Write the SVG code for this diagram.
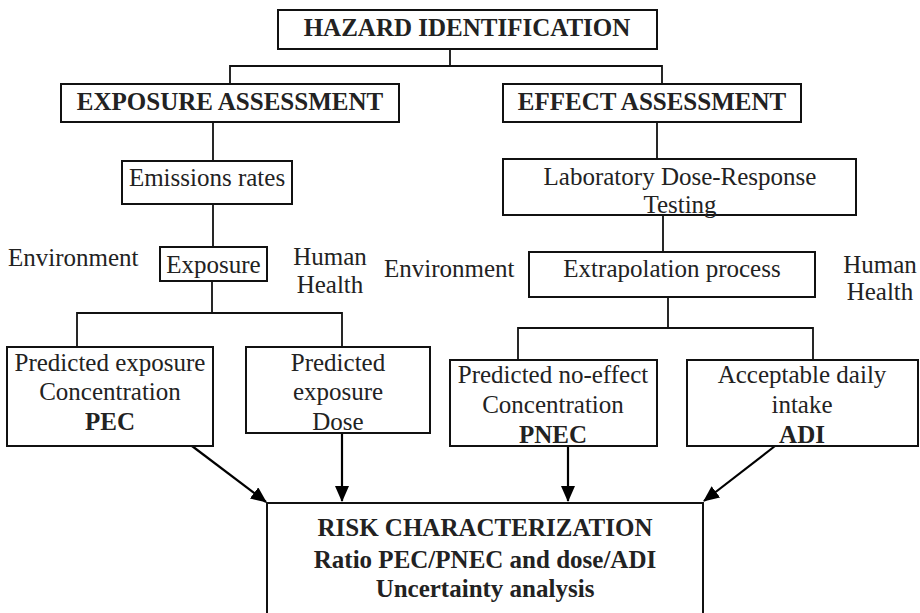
<svg xmlns="http://www.w3.org/2000/svg" width="920" height="613" viewBox="0 0 920 613">
<defs>
<style>
text{font-family:"Liberation Serif","Tinos","DejaVu Serif","Times New Roman",serif;font-size:25px;fill:#222}
.t{text-anchor:middle}
.b{font-weight:bold}
.box{fill:#fff;stroke:#111;stroke-width:2}
.c{fill:none;stroke:#111;stroke-width:1.8}
.a{fill:none;stroke:#000;stroke-width:2.2}
</style>
<marker id="ah" markerUnits="userSpaceOnUse" markerWidth="16" markerHeight="14" viewBox="0 0 16 14" refX="15" refY="7" orient="auto">
<path d="M0,0 L16,7 L0,14 Z" fill="#000"/>
</marker>
</defs>
<rect width="920" height="613" fill="#fff"/>
<g id="connectors">
<path class="c" d="M450,49 V66 M230,84 V66 H662 V84"/>
<path class="c" d="M213,122 V161 M213,204 V247 M212,281 V313 M77,347 V313 H342 V347"/>
<path class="c" d="M657,122 V159 M663,215 V252 M668,297 V328 M518,360 V328 H813 V360"/>
<line class="a" x1="192" y1="446" x2="266" y2="502" marker-end="url(#ah)"/>
<line class="a" x1="342" y1="433" x2="342" y2="501" marker-end="url(#ah)"/>
<line class="a" x1="568" y1="446" x2="568" y2="501" marker-end="url(#ah)"/>
<line class="a" x1="775" y1="446" x2="704" y2="501" marker-end="url(#ah)"/>
</g>
<g id="hazard">
<rect class="box" x="278" y="10" width="379" height="39"/>
<text class="t b" x="467" y="36" font-family="Liberation Serif, serif">HAZARD IDENTIFICATION</text>
</g>
<g id="exposure-assessment">
<rect class="box" x="61" y="84" width="338" height="38"/>
<text class="t b" x="230" y="110">EXPOSURE ASSESSMENT</text>
</g>
<g id="effect-assessment">
<rect class="box" x="503" y="84" width="298" height="38"/>
<text class="t b" x="652" y="110">EFFECT ASSESSMENT</text>
</g>
<g id="emissions">
<rect class="box" x="122" y="161" width="170" height="43"/>
<text class="t" x="207" y="186">Emissions rates</text>
</g>
<g id="exposure">
<rect class="box" x="160" y="247" width="107" height="34"/>
<text class="t" x="213.5" y="273">Exposure</text>
</g>
<g id="labels-left">
<text x="8" y="266">Environment</text>
<text class="t" x="330" y="265">Human</text>
<text class="t" x="330" y="293">Health</text>
</g>
<g id="lab-testing">
<rect class="box" x="503" y="159" width="353" height="56"/>
<text class="t" x="680" y="185">Laboratory Dose-Response</text>
<text class="t" x="680" y="213">Testing</text>
</g>
<g id="extrapolation">
<rect class="box" x="529" y="252" width="286" height="45"/>
<text class="t" x="672" y="277">Extrapolation process</text>
</g>
<g id="labels-right">
<text x="384" y="277">Environment</text>
<text class="t" x="880" y="273">Human</text>
<text class="t" x="880" y="300">Health</text>
</g>
<g id="pec">
<rect class="box" x="7" y="347" width="206" height="99"/>
<text class="t" x="110" y="371">Predicted exposure</text>
<text class="t" x="110" y="400">Concentration</text>
<text class="t b" x="110" y="430">PEC</text>
</g>
<g id="dose">
<rect class="box" x="246" y="347" width="184" height="86"/>
<text class="t" x="338" y="371">Predicted</text>
<text class="t" x="338" y="400">exposure</text>
<text class="t" x="338" y="430">Dose</text>
</g>
<g id="pnec">
<rect class="box" x="450" y="360" width="207" height="86"/>
<text class="t" x="553" y="383">Predicted no-effect</text>
<text class="t" x="553" y="413">Concentration</text>
<text class="t b" x="553" y="443">PNEC</text>
</g>
<g id="adi">
<rect class="box" x="687" y="360" width="231" height="86"/>
<text class="t" x="802" y="383">Acceptable daily</text>
<text class="t" x="802" y="413">intake</text>
<text class="t b" x="802" y="443">ADI</text>
</g>
<g id="risk">
<rect class="box" x="267" y="503" width="436" height="120"/>
<text class="t b" x="485" y="536">RISK CHARACTERIZATION</text>
<text class="t b" x="485" y="568">Ratio PEC/PNEC and dose/ADI</text>
<text class="t b" x="485" y="597">Uncertainty analysis</text>
</g>
</svg>
